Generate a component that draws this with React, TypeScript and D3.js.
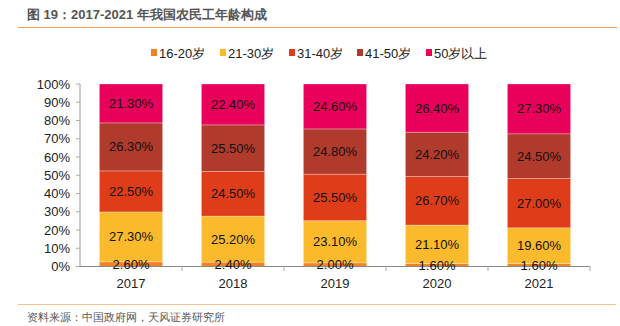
import React from "react";
import * as d3 from "d3";

const years = ["2017", "2018", "2019", "2020", "2021"];
const groups = ["16-20岁", "21-30岁", "31-40岁", "41-50岁", "50岁以上"];
const s1620 = [2.6, 2.4, 2.0, 1.6, 1.6];
const s2130 = [27.3, 25.2, 23.1, 21.1, 19.6];
const s3140 = [22.5, 24.5, 25.5, 26.7, 27.0];
const s4150 = [26.3, 25.5, 24.8, 24.2, 24.5];
const s50 = [21.3, 22.4, 24.6, 26.4, 27.3];
const yTicks = [0, 10, 20, 30, 40, 50, 60, 70, 80, 90, 100];
const colors = ["#F58220", "#FBBA2C", "#DF3D1A", "#B03A2C", "#E8005A"];

const series = [s1620, s2130, s3140, s4150, s50];
const font = "'Liberation Sans', Arial, sans-serif";

export default function App() {
  const W = 620, H = 326;
  const x = d3.scaleBand().domain(years).range([80, 590]).paddingInner(0.38).paddingOuter(0.19);
  const xOuter = d3.scaleBand().domain(years).range([80, 590]);
  const y = d3.scaleLinear().domain([0, 100]).range([266.5, 84]);
  const rows = years.map((yr, i) => {
    const o: any = { year: yr };
    groups.forEach((g, k) => (o[g] = series[k][i]));
    return o;
  });
  const stacked = d3.stack().keys(groups)(rows as any);
  const legendX = [151, 220, 289, 357, 426];
  return (
    <svg width={W} height={H} style={{ position: "absolute", left: 0, top: 0 }} fontFamily={font}>
      <text x={27} y={19} fontSize={13} fontWeight="bold" fill="#555">图 19：2017-2021 年我国农民工年龄构成</text>
      <line x1={18} x2={617} y1={27.5} y2={27.5} stroke="#F0A060" strokeWidth={1.2} />
      {groups.map((g, k) => (
        <g key={g}>
          <rect x={legendX[k]} y={49} width={6} height={7} fill={colors[k]} />
          <text x={legendX[k] + 8} y={57.5} fontSize={13} fill="#222">{g}</text>
        </g>
      ))}
      {stacked.map((layer, k) =>
        layer.map((d, i) => (
          <rect key={k + "-" + i} x={x(years[i])} y={y(d[1])} width={x.bandwidth()} height={y(d[0]) - y(d[1])}
            fill={colors[k]} stroke="#ffffff" strokeOpacity={0.35} strokeWidth={0.8} />
        ))
      )}
      <line x1={80} x2={80} y1={84} y2={267} stroke="#ccc" strokeWidth={2} />
      {yTicks.map((t) => (
        <g key={t}>
          <line x1={76} x2={80} y1={y(t)} y2={y(t)} stroke="#aaa" />
          <text x={70} y={y(t) + 4.5} fontSize={13} textAnchor="end" fill="#222">{t}%</text>
        </g>
      ))}
      <line x1={80} x2={590} y1={266.5} y2={266.5} stroke="#888" strokeWidth={1} />
      {years.map((yr, i) => (
        <g key={yr}>
          <line x1={(xOuter(yr) as number) + xOuter.bandwidth()} x2={(xOuter(yr) as number) + xOuter.bandwidth()} y1={266.5} y2={271} stroke="#aaa" />
          <text x={(x(yr) as number) + x.bandwidth() / 2} y={288} fontSize={13} textAnchor="middle" fill="#222">{yr}</text>
        </g>
      ))}
      {stacked.map((layer, k) =>
        layer.map((d, i) => (
          <text key={"l" + k + "-" + i} x={(x(years[i]) as number) + x.bandwidth() / 2} y={(y(d[0]) + y(d[1])) / 2 + 4.5}
            fontSize={13} textAnchor="middle" fill="#111">{series[k][i].toFixed(2)}%</text>
        ))
      )}
      <line x1={18} x2={616} y1={304.5} y2={304.5} stroke="#F9C08A" strokeWidth={1.2} />
      <text x={27} y={321} fontSize={11} fill="#555">资料来源：中国政府网，天风证券研究所</text>
    </svg>
  );
}
